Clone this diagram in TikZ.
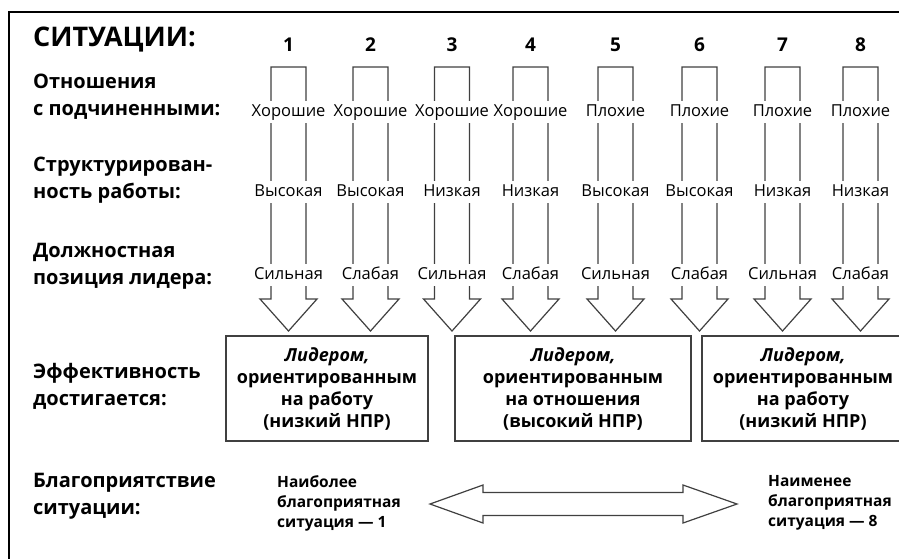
\documentclass[tikz,border=0pt]{standalone}
\usepackage{fontspec}
\setmainfont{Open Sans}
\begin{document}
\begin{tikzpicture}[x=1pt,y=-1pt,
  rotulo/.style={font=\bfseries\fontsize{20}{27}\selectfont,anchor=west,align=left,inner sep=0pt},
  valor/.style={font=\fontsize{16.5}{18}\selectfont,fill=white,inner xsep=0.5pt,inner ysep=3pt,
    text height=12pt,text depth=4pt},
  numero/.style={font=\bfseries\fontsize{19}{20}\selectfont},
  caja/.style={draw=black!75,line width=1.2pt,minimum height=105pt,align=center,font=\bfseries\fontsize{18}{22}\selectfont},
  flecha/.style={draw=black!75,line width=1.2pt,fill=white},
  nota/.style={font=\bfseries\fontsize{15.5}{20}\selectfont,anchor=west,align=left,inner sep=0pt}]

\useasboundingbox (0,0) rectangle (899,558);
\clip (0,0) rectangle (899,558);

% Marco
\draw[line width=2pt] (899,12) -- (9,12) -- (9,560);

% Rótulos de la izquierda
\node[rotulo,font=\bfseries\fontsize{27}{30}\selectfont] (titulo) at (33,40) {СИТУАЦИИ:};
\node[rotulo] (relaciones) at (33,97) {Отношения\\с подчиненными:};
\node[rotulo] (estructura) at (33,180) {Структурирован-\\ность работы:};
\node[rotulo] (posicion) at (33,266.5) {Должностная\\позиция лидера:};
\node[rotulo] (eficacia) at (33,386.5) {Эффективность\\достигается:};
\node[rotulo] (favor) at (33,496.5) {Благоприятствие\\ситуации:};

% Flechas de las situaciones
\foreach \n/\cx/\a/\b/\c in {1/288.5/Хорошие/Высокая/Сильная,
    2/370.5/Хорошие/Высокая/Слабая, 3/452/Хорошие/Низкая/Сильная,
    4/530.5/Хорошие/Низкая/Слабая, 5/615.5/Плохие/Высокая/Сильная,
    6/699.5/Плохие/Высокая/Слабая, 7/782.5/Плохие/Низкая/Сильная,
    8/860.5/Плохие/Низкая/Слабая}
{
  \draw[flecha] (\cx-17.5,67) -- (\cx+17.5,67) -- (\cx+17.5,299) -- (\cx+28.5,299)
    -- (\cx,331) -- (\cx-28.5,299) -- (\cx-17.5,299) -- cycle;
  \node[numero] (num\n) at (\cx,45) {\n};
  \node[valor] (rel\n) at (\cx,112) {\a};
  \node[valor] (est\n) at (\cx,192) {\b};
  \node[valor] (pos\n) at (\cx,275) {\c};
}

% Cajas de eficacia
\node[caja,minimum width=202pt] (tarea1) at (327,388.5)
  {\textit{Лидером,}\\ориентированным\\на работу\\(низкий НПР)};
\node[caja,minimum width=236pt] (relacion) at (573,388.5)
  {\textit{Лидером,}\\ориентированным\\на отношения\\(высокий НПР)};
\node[caja,minimum width=202pt] (tarea2) at (803,388.5)
  {\textit{Лидером,}\\ориентированным\\на работу\\(низкий НПР)};

% Flecha doble
\draw[flecha] (430,504) -- (483,485) -- (483,492.5) -- (683,492.5) -- (683,485)
  -- (737,504) -- (683,523) -- (683,515.5) -- (483,515.5) -- (483,523) -- cycle;
\node[nota] (mejor) at (277,503) {Наиболее\\благоприятная\\ситуация — 1};
\node[nota] (peor) at (768,503) {Наименее\\благоприятная\\ситуация — 8};

\end{tikzpicture}
\end{document}
